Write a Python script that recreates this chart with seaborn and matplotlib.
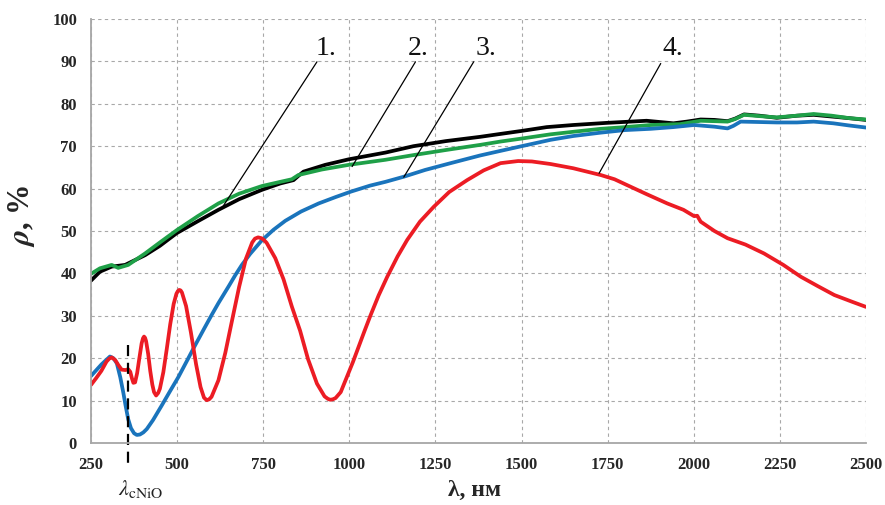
import matplotlib
matplotlib.use("Agg")
import matplotlib.pyplot as plt
import seaborn as sns
import pandas as pd

# ---- data ----
x1 = [250, 276, 310, 349, 407, 450, 499, 560, 620, 680, 746, 799, 838, 852, 867, 930, 998, 1105,
      1186, 1280, 1379, 1439, 1500, 1573, 1650, 1747, 1863, 1941, 1980, 2020, 2060, 2098, 2120,
      2146, 2190, 2241, 2300, 2348, 2400, 2453, 2500]
y1 = [38.3, 40.4, 41.6, 42.0, 44.3, 46.5, 49.5, 52.3, 55.0, 57.5, 59.7, 61.2, 62.0, 63.0, 64.0,
      65.6, 66.9, 68.5, 70.0, 71.2, 72.2, 72.9, 73.6, 74.5, 75.0, 75.5, 76.0, 75.4, 75.8, 76.3,
      76.2, 75.9, 76.5, 77.5, 77.2, 76.7, 77.2, 77.4, 77.0, 76.6, 76.2]

x2 = [250, 276, 310, 329, 358, 407, 450, 499, 560, 620, 680, 746, 800, 833, 852, 920, 998, 1105,
      1186, 1280, 1379, 1439, 1500, 1584, 1650, 1730, 1800, 1875, 1960, 2020, 2060, 2098, 2120,
      2146, 2190, 2241, 2300, 2348, 2400, 2453, 2500]
y2 = [39.9, 41.2, 42.0, 41.3, 42.0, 44.7, 47.3, 50.2, 53.5, 56.5, 58.8, 60.6, 61.6, 62.2, 63.2,
      64.5, 65.6, 66.8, 67.9, 69.1, 70.3, 71.1, 71.8, 72.8, 73.4, 74.1, 74.5, 75.0, 75.2, 76.0,
      75.9, 75.8, 76.4, 77.4, 77.1, 76.8, 77.2, 77.6, 77.2, 76.6, 76.3]

x3 = [250, 280, 305, 315, 325, 335, 344, 350, 358, 366, 375, 383, 392, 402, 412, 430, 455, 480,
      504, 530, 552, 580, 601, 620, 650, 669, 688, 712, 746, 780, 814, 860, 911, 960, 1005, 1060,
      1105, 1158, 1220, 1294, 1379, 1439, 1500, 1584, 1650, 1730, 1800, 1875, 1940, 2001, 2060,
      2098, 2115, 2136, 2190, 2241, 2300, 2348, 2405, 2450, 2500]
y3 = [15.8, 18.5, 20.4, 20.0, 18.8, 15.5, 11.8, 9.0, 5.6, 3.5, 2.3, 1.9, 2.0, 2.5, 3.3, 5.4, 8.8,
      12.3, 15.6, 19.6, 23.0, 27.2, 30.3, 33.0, 37.0, 39.6, 42.0, 44.6, 47.8, 50.3, 52.4, 54.6,
      56.5, 58.0, 59.3, 60.7, 61.6, 62.8, 64.4, 66.0, 67.8, 68.9, 70.0, 71.5, 72.4, 73.2, 73.8,
      74.1, 74.5, 75.0, 74.6, 74.2, 74.8, 75.8, 75.7, 75.6, 75.6, 75.8, 75.4, 74.9, 74.4]

x4 = [250, 265, 280, 295, 303, 310, 320, 330, 339, 350, 358, 364, 369, 373, 378, 384, 390, 397,
      401, 404, 407, 410, 416, 422, 428, 433, 439, 445, 450, 460, 470, 480, 490, 498, 502, 506,
      510, 514, 526, 540, 555, 568, 578, 586, 593, 600, 620, 640, 660, 680, 700, 718, 726, 735,
      745, 752, 760, 785, 809, 833, 857, 880, 906, 928, 938, 945, 952, 960, 975, 993, 1010, 1027,
      1044, 1061, 1085, 1110, 1140, 1168, 1205, 1245, 1290, 1342, 1390, 1439, 1490, 1530, 1584,
      1650, 1730, 1770, 1807, 1860, 1923, 1970, 2001, 2010, 2020, 2060, 2098, 2150, 2204, 2260,
      2311, 2360, 2408, 2460, 2500]
y4 = [13.7, 15.3, 17.0, 19.2, 19.9, 20.2, 19.6, 18.3, 17.3, 17.2, 17.4, 16.8, 15.2, 14.2, 14.3,
      16.5, 19.8, 23.5, 24.7, 25.1, 24.8, 24.0, 21.0, 17.0, 13.8, 12.0, 11.2, 11.8, 12.8, 16.7,
      22.2, 28.0, 32.8, 35.2, 35.8, 36.1, 36.0, 35.5, 32.3, 26.1, 18.6, 13.2, 10.7, 10.1, 10.3,
      10.9, 14.8, 21.3, 29.1, 36.8, 43.5, 47.3, 48.2, 48.5, 48.3, 47.9, 47.2, 43.6, 38.6, 32.2,
      26.5, 19.8, 14.0, 11.0, 10.4, 10.2, 10.3, 10.6, 12.0, 15.6, 19.0, 22.7, 26.4, 30.0, 34.8,
      39.2, 44.0, 47.9, 52.2, 55.7, 59.2, 62.0, 64.3, 66.0, 66.5, 66.4, 65.8, 64.8, 63.2, 62.2,
      60.8, 58.8, 56.5, 55.0, 53.5, 53.6, 52.2, 50.0, 48.3, 46.8, 44.7, 42.0, 39.2, 37.0, 34.9,
      33.3, 32.1]

labels = ["1.", "2.", "3.", "4."]
x_ticks = [250, 500, 750, 1000, 1250, 1500, 1750, 2000, 2250, 2500]
y_ticks = [0, 10, 20, 30, 40, 50, 60, 70, 80, 90, 100]

# ---- style ----
sns.set_style("white")
plt.rcParams["font.family"] = ["Liberation Serif", "DejaVu Serif"]
plt.rcParams["mathtext.fontset"] = "stix"

fig = plt.figure(figsize=(8.85, 5.05), dpi=100)
ax = fig.add_axes([91 / 885, 1 - 443 / 505, (866 - 91) / 885, (443 - 19) / 505])

colors = ["#000000", "#1FA048", "#1A74BC", "#EC1C24"]
series = [(x1, y1), (x2, y2), (x3, y3), (x4, y4)]
for (xs, ys), c in zip(series, colors):
    df = pd.DataFrame({"x": xs, "y": ys})
    sns.lineplot(data=df, x="x", y="y", color=c, lw=2.7, ax=ax, estimator=None,
                 sort=False, solid_capstyle="round", solid_joinstyle="round")

ax.set_xlim(250, 2500)
ax.set_ylim(0, 100)
ax.set_xticks(x_ticks)
ax.set_yticks(y_ticks)
ax.set_xticklabels([str(v) for v in x_ticks], fontsize=12, fontweight="bold")
ax.set_yticklabels([str(v) for v in y_ticks], fontsize=12, fontweight="bold")
ax.grid(True, color="#A8A8A8", linestyle=(0, (3, 3)), linewidth=0.8)
ax.set_axisbelow(True)
for s in ["top", "right"]:
    ax.spines[s].set_visible(False)
for s in ["left", "bottom"]:
    ax.spines[s].set_color("#A6A6A6")
    ax.spines[s].set_linewidth(1.3)
ax.tick_params(axis="both", direction="out", length=4, width=1, color="#A6A6A6", pad=6)

ax.set_xlabel("λ, нм", fontsize=17, fontweight="bold")
ax.set_ylabel(r"$\mathbfit{\rho}$, %", fontsize=22, fontweight="bold")
ax.xaxis.set_label_coords(0.495, -0.088)
ax.yaxis.set_label_coords(-0.07, 0.535)

# leader lines + numbers
leaders = [((630, 55.4), (906, 89.9)),
           ((1008, 65.2), (1192, 89.9)),
           ((1158, 62.7), (1361, 89.9)),
           ((1725, 63.6), (1904, 89.5))]
label_x = [901, 1170, 1366, 1910]
for ((xa, ya), (xb, yb)), lab, lx in zip(leaders, labels, label_x):
    ax.plot([xa, xb], [ya, yb], color="black", lw=0.9)
    ax.text(lx, 91.4, lab, fontsize=20, ha="left", va="baseline", color="#111111")

# dashed λc marker
ax.plot([358, 358], [23.2, -5.6], color="black", lw=1.6, linestyle=(0, (5, 3)), clip_on=False)
ax.text(395, -10.8, r"$\lambda_{\mathrm{cNiO}}$", fontsize=16, ha="center", va="center", color="#222222")

fig.savefig("out.png", dpi=100)
